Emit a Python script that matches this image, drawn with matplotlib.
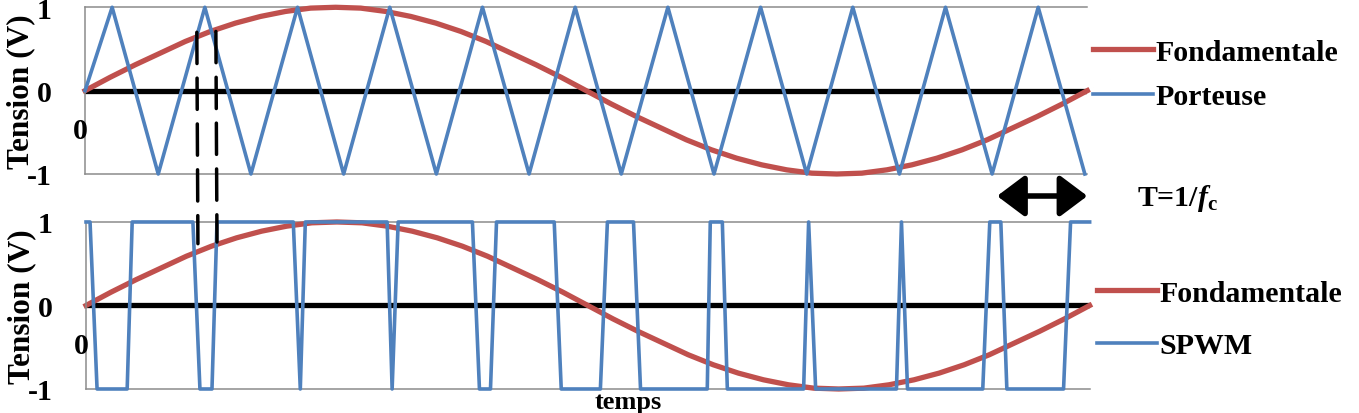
import matplotlib
matplotlib.use("Agg")
import matplotlib.pyplot as plt
from matplotlib.patches import ConnectionPatch

# time axis in ms (one period of the fundamental)
fund_t = [i * 0.5 for i in range(41)]
fund_v = [0.00, 0.16, 0.31, 0.45, 0.59, 0.71, 0.81, 0.89, 0.95, 0.99, 1.00,
          0.99, 0.95, 0.89, 0.81, 0.71, 0.59, 0.45, 0.31, 0.16, 0.00,
          -0.16, -0.31, -0.45, -0.59, -0.71, -0.81, -0.89, -0.95, -0.99, -1.00,
          -0.99, -0.95, -0.89, -0.81, -0.71, -0.59, -0.45, -0.31, -0.16, 0.00]

# triangular carrier (vertices)
carrier_t = [0.00, 0.54, 1.46, 2.39, 3.31, 4.24, 5.16, 6.08, 7.01, 7.93, 8.86, 9.78,
             10.70, 11.63, 12.55, 13.48, 14.40, 15.32, 16.25, 17.17, 18.10, 19.02, 19.95]
carrier_v = [0, 1, -1, 1, -1, 1, -1, 1, -1, 1, -1, 1,
             -1, 1, -1, 1, -1, 1, -1, 1, -1, 1, -1]

# SPWM output (switching points)
spwm_t = [0.00, 0.08, 0.22, 0.82, 0.92, 2.13, 2.27, 2.51, 2.61, 4.13, 4.27, 4.37,
          6.00, 6.10, 6.22, 7.70, 7.84, 8.06, 8.18, 9.33, 9.47, 10.25, 10.39,
          10.91, 11.05, 12.38, 12.44, 12.68, 12.78, 14.30, 14.40, 14.54, 16.15,
          16.25, 16.37, 17.87, 18.01, 18.23, 18.35, 19.48, 19.62, 20.00]
spwm_v = [1, 1, -1, -1, 1, 1, -1, -1, 1, 1, -1, 1,
          1, -1, 1, 1, -1, -1, 1, 1, -1, -1, 1,
          1, -1, -1, 1, 1, -1, -1, 1, -1, -1,
          1, -1, -1, 1, 1, -1, -1, 1, 1]

yticks = [-1, 0, 1]
ytick_labels = ["-1", "0", "1"]

RED = "#C0504D"
BLUE = "#4F81BD"
GRAY = "#8C8C8C"
FS = 21.5

plt.rcParams["font.family"] = ["Liberation Serif", "DejaVu Serif"]
plt.rcParams["font.weight"] = "bold"
plt.rcParams["mathtext.fontset"] = "custom"
plt.rcParams["mathtext.rm"] = "Liberation Serif:bold"
plt.rcParams["mathtext.it"] = "Liberation Serif:italic:bold"
plt.rcParams["mathtext.bf"] = "Liberation Serif:bold"

fig = plt.figure(figsize=(13.59, 4.14), dpi=100)
ax1 = fig.add_axes([0.0626, 0.5773, 0.7375, 0.4027])
ax2 = fig.add_axes([0.0633, 0.0580, 0.7385, 0.4034])


def style_axis(ax):
    ax.set_xlim(0, 20)
    ax.set_ylim(-1, 1)
    ax.set_xticks([])
    ax.set_yticks(yticks)
    ax.set_yticklabels(ytick_labels, fontsize=FS, fontweight="bold")
    ax.tick_params(axis="y", length=0, pad=24)
    for s in ["top", "right", "bottom"]:
        ax.spines[s].set_visible(False)
    ax.spines["left"].set_color(GRAY)
    ax.spines["left"].set_linewidth(1.1)
    ax.yaxis.grid(True, color=GRAY, linewidth=1.1)
    for gl in ax.get_ygridlines():
        gl.set_clip_on(False)
    ax.set_axisbelow(True)
    ax.axhline(0, color="black", linewidth=3.8, zorder=1.5)
    ax.set_ylabel("Tension (V)", fontsize=22.5, fontweight="bold", labelpad=-6)
    ax.text(-0.1, -0.48, "0", fontsize=FS, fontweight="bold", ha="center", va="center")


style_axis(ax1)
style_axis(ax2)

ax1.plot(fund_t, fund_v, color=RED, linewidth=3.8, label="Fondamentale", clip_on=False, zorder=2)
ax1.plot(carrier_t, carrier_v, color=BLUE, linewidth=2.6, label="Porteuse", clip_on=False, zorder=3)

ax2.plot(fund_t, fund_v, color=RED, linewidth=3.8, label="Fondamentale", clip_on=False, zorder=2)
ax2.plot(spwm_t, spwm_v, color=BLUE, linewidth=2.6, label="SPWM", clip_on=False, zorder=3)

leg_kw = dict(loc="center left", frameon=False, fontsize=FS, borderaxespad=0, borderpad=0,
              handlelength=2.0, handletextpad=0.1, labelspacing=0.6)
ax1.legend(bbox_to_anchor=(0.8043, 0.8176), bbox_transform=fig.transFigure, **leg_kw)
leg_kw["labelspacing"] = 0.85
ax2.legend(bbox_to_anchor=(0.8072, 0.2258), bbox_transform=fig.transFigure, **leg_kw)

# dashed markers linking the two plots
for t_top, y_top, y_bot in [(2.23, 0.70, 0.74), (2.61, 0.71, 0.76)]:
    con = ConnectionPatch(xyA=(t_top, y_top), coordsA=ax1.transData,
                          xyB=(t_top, y_bot), coordsB=ax2.transData,
                          color="black", linewidth=2.5, linestyle=(0, (9, 4.2)), zorder=5)
    fig.add_artist(con)

# carrier period arrow
ax1.annotate("", xy=(20.0, -0.132), xytext=(18.2, -0.132),
             xycoords=("data", "axes fraction"), textcoords=("data", "axes fraction"),
             arrowprops=dict(arrowstyle="<|-|>,head_length=0.6,head_width=0.45",
                             color="black", lw=4, mutation_scale=28,
                             shrinkA=0, shrinkB=0), annotation_clip=False)
fig.text(0.8366, 0.5217, r"T=1/$f_{\mathrm{c}}$", fontsize=FS, fontweight="bold",
         ha="left", va="center")

fig.text(628 / 1359, 0.0, "temps", fontsize=19, fontweight="bold", ha="center", va="bottom")

fig.savefig("out.png", dpi=100)
